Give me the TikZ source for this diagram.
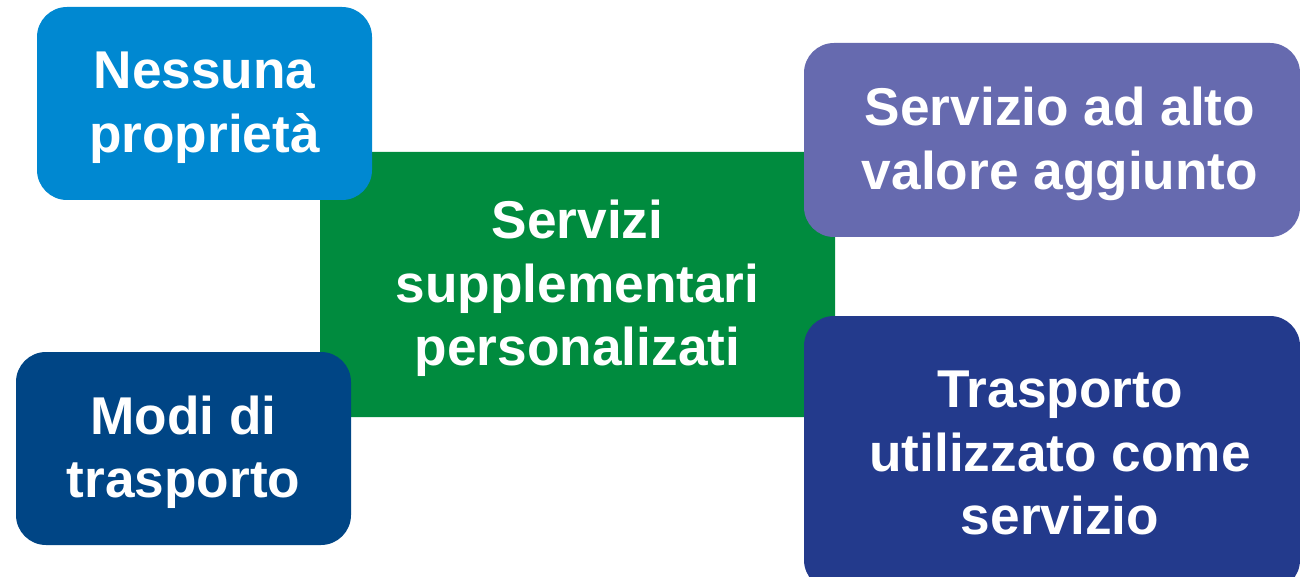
\documentclass[tikz,border=0pt]{standalone}
\usepackage{fontspec}
\setmainfont{Liberation Sans}
\definecolor{cLightBlue}{HTML}{0088D1}
\definecolor{cGreen}{HTML}{008B3E}
\definecolor{cPurple}{HTML}{666AAF}
\definecolor{cDarkBlue}{HTML}{004585}
\definecolor{cNavy}{HTML}{233A8C}
\tikzset{
  box/.style={rounded corners=30pt, draw=none},
  lbl/.style={text=white, font=\fontsize{53.2}{63.5}\selectfont\bfseries, align=center, inner sep=0pt}
}
\begin{document}
\begin{tikzpicture}[x=1pt,y=-1pt]
\useasboundingbox (0,0) rectangle (1300,577);
% green centre (drawn first)
\path[box, fill=cGreen, rounded corners=25pt] (320,152) rectangle (835,417);
\node[lbl] (g) at (577.5,288.5) {Servizi\\supplementari\\personalizati};
% top-left
\path[box, fill=cLightBlue] (37,7) rectangle (372,200);
\node[lbl] (tl) at (204.5,107.5) {Nessuna\\proprietà};
% bottom-left
\path[box, fill=cDarkBlue] (16,352) rectangle (351,545);
\node[lbl] (bl) at (183.5,452) {Modi di\\trasporto};
% top-right
\path[box, fill=cPurple] (804,43) rectangle (1300,237);
\node[lbl] (tr) at (1060,144) {Servizio ad alto\\valore aggiunto};
% bottom-right
\path[box, fill=cNavy] (804,316) rectangle (1300,590);
\node[lbl] (br) at (1060,453) {Trasporto\\utilizzato come\\servizio};
\end{tikzpicture}
\end{document}
